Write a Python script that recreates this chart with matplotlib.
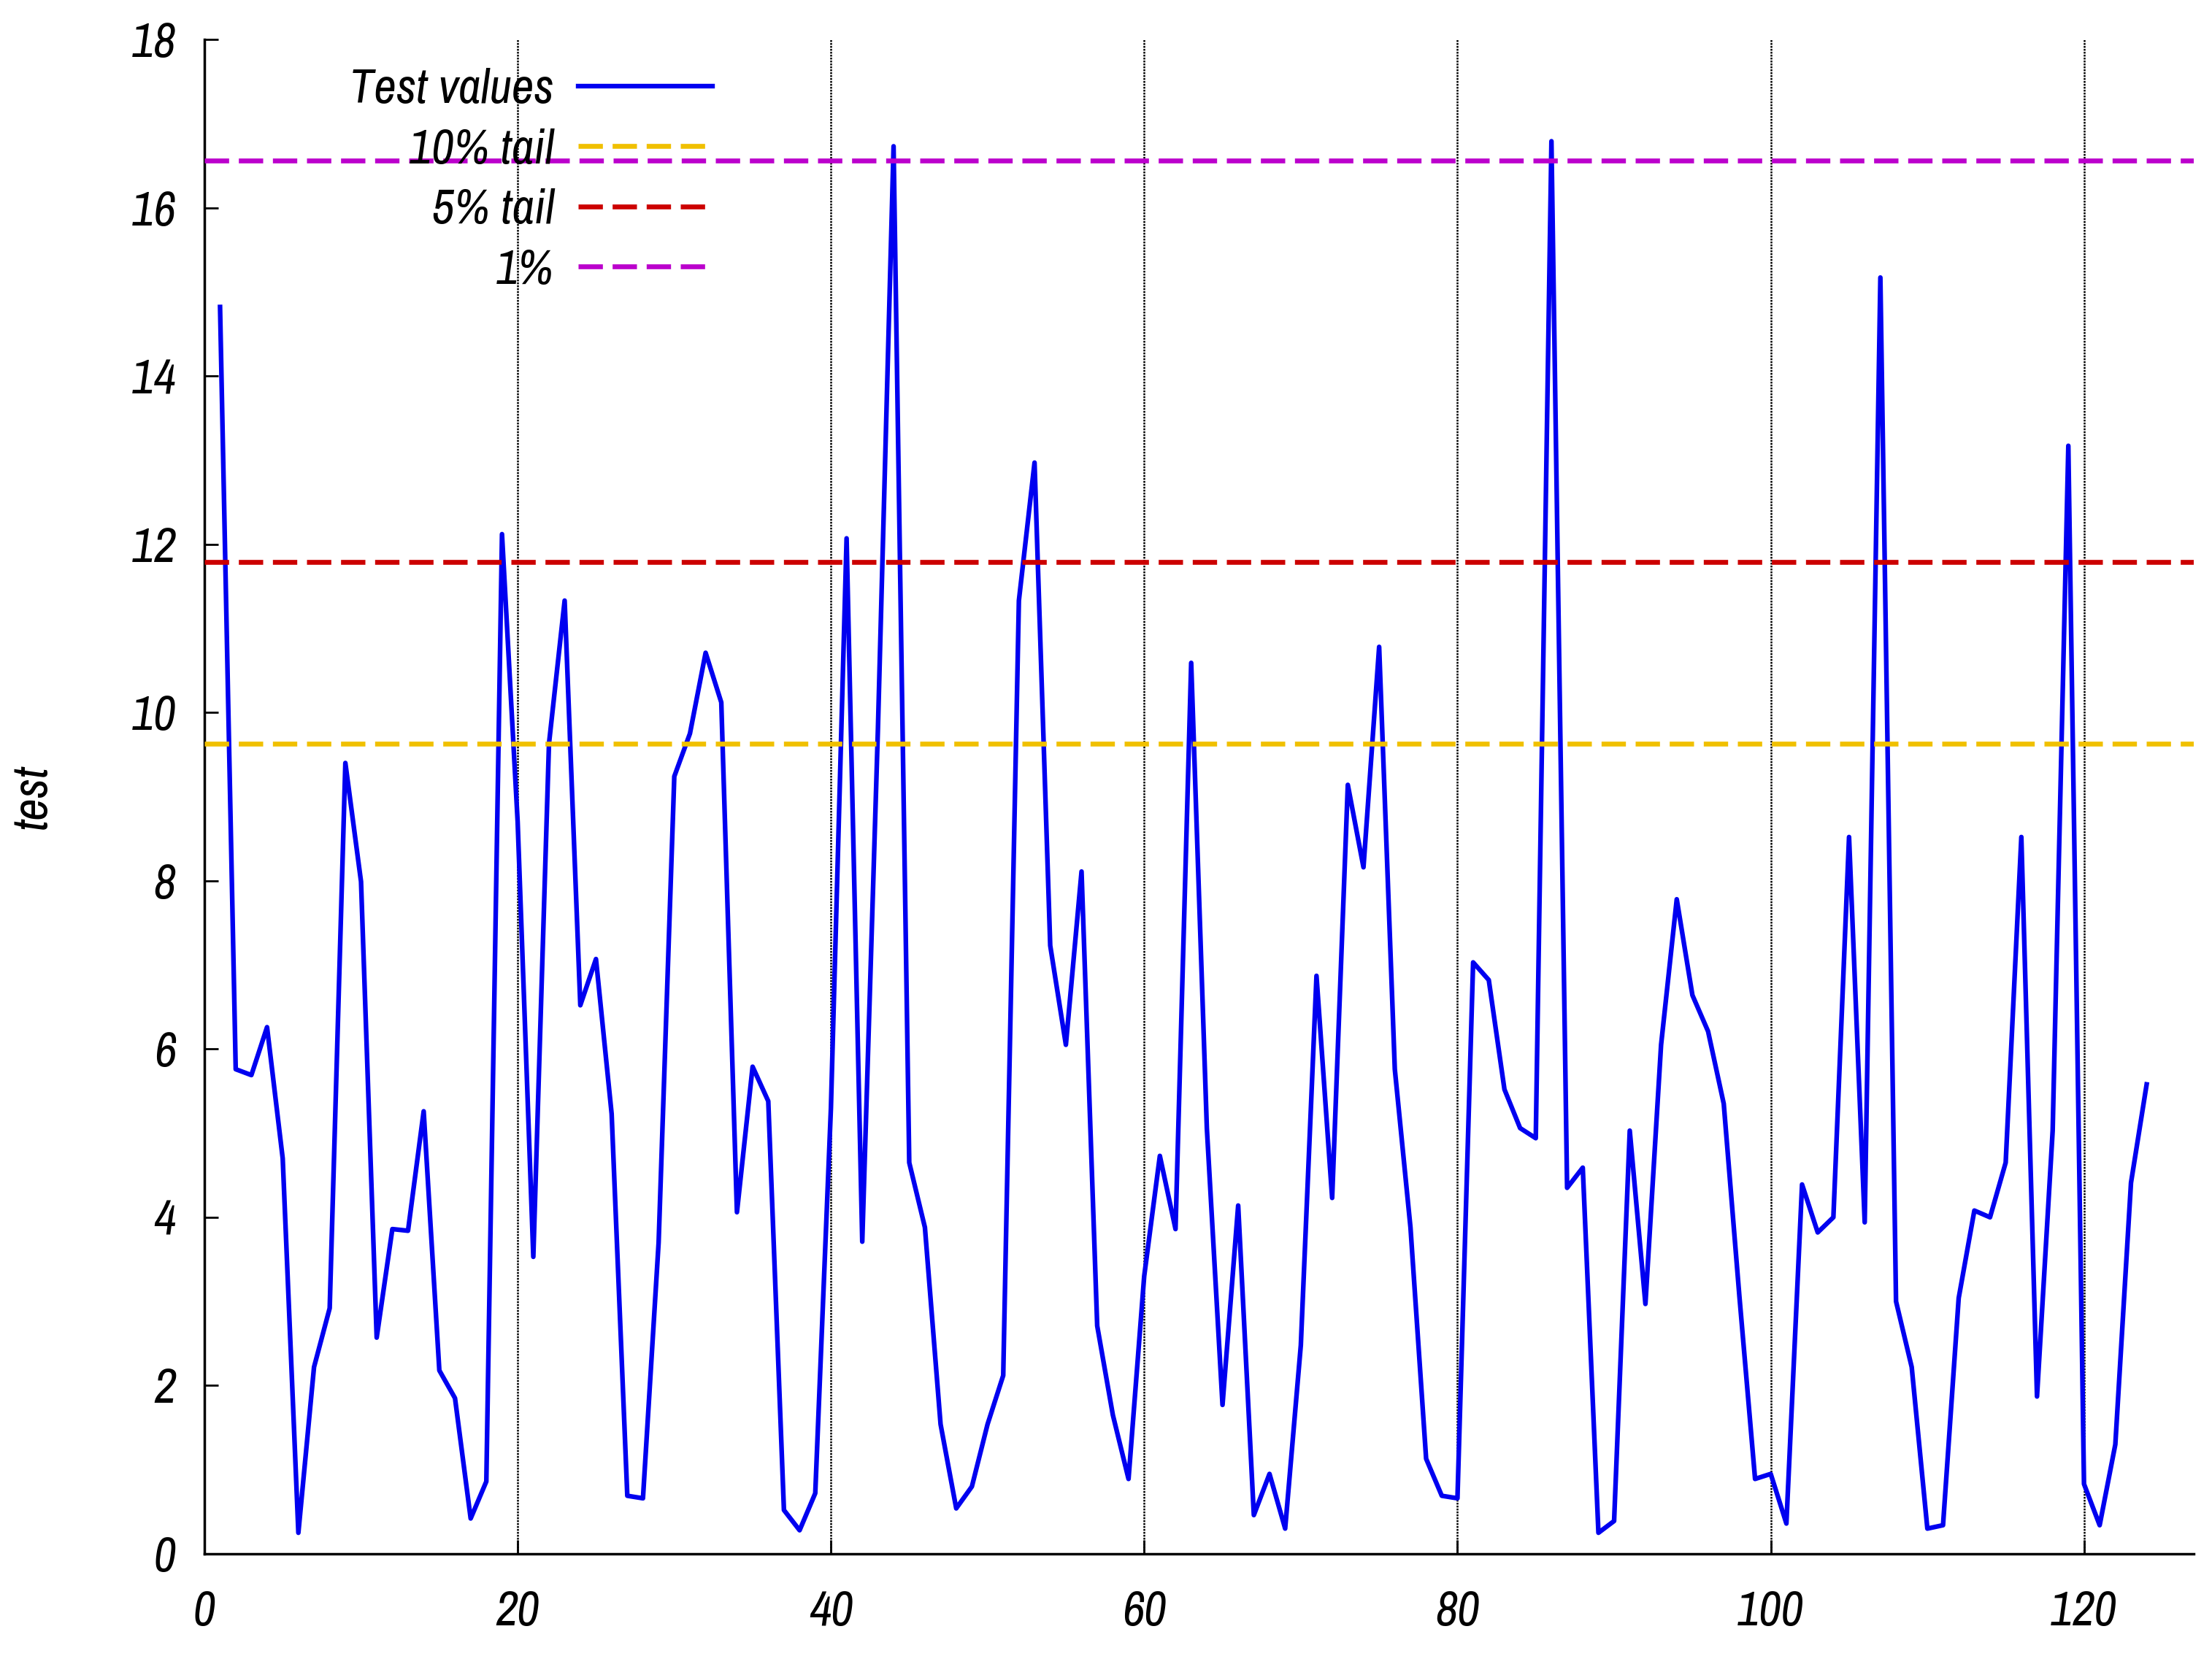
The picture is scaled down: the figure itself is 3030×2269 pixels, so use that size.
import matplotlib
matplotlib.use('Agg')
import matplotlib.pyplot as plt
from matplotlib import font_manager
import numpy as np

# test values, one per index 1..124
test_values = [
    14.82, 5.76, 5.69, 6.26, 4.70, 0.25, 2.22, 2.92, 9.40, 7.99,
    2.57, 3.86, 3.84, 5.26, 2.18, 1.85, 0.42, 0.86, 12.12, 8.7,
    3.53, 9.63, 11.33, 6.52, 7.07, 5.23, 0.69, 0.66, 3.7, 9.24,
    9.75, 10.71, 10.12, 4.06, 5.79, 5.38, 0.52, 0.28, 0.72, 5.3,
    12.07, 3.71, 9.8, 16.73, 4.65, 3.88, 1.54, 0.54, 0.80, 1.54,
    2.12, 11.33, 12.97, 7.23, 6.05, 8.11, 2.71, 1.65, 0.89, 3.30,
    4.73, 3.86, 10.59, 5.06, 1.77, 4.14, 0.46, 0.95, 0.30, 2.48,
    6.87, 4.23, 9.14, 8.16, 10.78, 5.76, 3.88, 1.13, 0.69, 0.66,
    7.03, 6.82, 5.52, 5.06, 4.94, 16.79, 4.35, 4.59, 0.25, 0.39,
    5.03, 2.97, 6.05, 7.78, 6.64, 6.21, 5.35, 3.06, 0.89, 0.95,
    0.36, 4.39, 3.82, 4.00, 8.52, 3.94, 15.17, 3.00, 2.22, 0.30,
    0.34, 3.04, 4.08, 4.00, 4.65, 8.52, 1.87, 5.03, 13.17, 0.83,
    0.34, 1.30, 4.41, 5.58,
]
index = np.arange(1, len(test_values) + 1)

tail_labels = ['10% tail', '5% tail', '1%']
tail_values = [9.63, 11.79, 16.56]
tail_colors = ['#f0c000', '#cc0000', '#bb00cc']

# look for a condensed face, the reference uses a narrow oblique sans
names = sorted({f.name for f in font_manager.fontManager.ttflist})
narrow = [n for n in names if 'Narrow' in n] + [n for n in names if 'Condensed' in n]
FONT = narrow[:1] + ['Liberation Sans', 'DejaVu Sans']
plt.rcParams['font.family'] = FONT
plt.rcParams['font.style'] = 'italic'
plt.rcParams['font.size'] = 48

fig = plt.figure(figsize=(30.3, 22.69), dpi=100)
ax = fig.add_axes([0.0924, 0.0617, 0.8993, 0.9145])

ax.plot(index, test_values, color='#0000f0', lw=4.6, label='Test values', zorder=3)
for lab, val, col in zip(tail_labels, tail_values, tail_colors):
    ax.axhline(val, color=col, lw=4.8, dashes=(5, 2), label=lab, zorder=4)

ax.set_xlim(0, 127)
ax.set_ylim(0, 18)
ax.set_xticks(np.arange(0, 121, 20))
ax.set_yticks(np.arange(0, 19, 2))
for x in range(20, 121, 20):
    ax.axvline(x, color='black', lw=1.8, ls=(0, (1, 0.6)), zorder=1)

for side in ['top', 'right']:
    ax.spines[side].set_visible(False)
for side in ['left', 'bottom']:
    ax.spines[side].set_linewidth(2.5)
ax.tick_params(direction='in', length=14, width=2, labelsize=48)
ax.tick_params(axis='x', pad=36)
ax.tick_params(axis='y', pad=28)

ax.set_ylabel('test', fontsize=48)
ax.yaxis.set_label_coords(-0.075, 0.5)

ax.legend(loc='upper right', bbox_to_anchor=(0.322, 0.959), bbox_transform=fig.transFigure,
          frameon=False, markerfirst=False, handlelength=2.75, handletextpad=0.5,
          labelspacing=0.33, borderpad=0, borderaxespad=0, fontsize=48)

fig.savefig('out.png', dpi=100)
